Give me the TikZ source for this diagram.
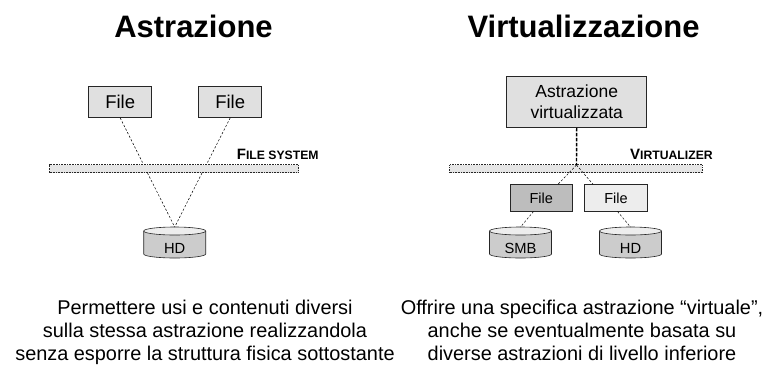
\documentclass[tikz,border=0pt]{standalone}
\usepackage{fontspec}
\setmainfont{Liberation Sans}
\usetikzlibrary{shapes.geometric,calc}
\definecolor{boxfill}{gray}{0.88}
\definecolor{darkfill}{gray}{0.74}
\definecolor{lightfill}{gray}{0.93}
\definecolor{cylfill}{gray}{0.80}
\definecolor{barfill}{gray}{0.90}
\definecolor{edgec}{gray}{0.15}
\tikzset{
 x=1pt,y=-1pt,
 titletext/.style={font=\fontsize{31}{34}\selectfont\bfseries,inner sep=0,anchor=base},
 bodytext/.style={font=\fontsize{19.9}{23}\selectfont,align=center,inner sep=0,anchor=north},
 boxbase/.style={draw=edgec,line width=0.6pt,inner sep=0,font=\fontsize{18.5}{21}\selectfont,align=center,text=black},
 bigfile/.style={boxbase,fill=boxfill,minimum width=63pt,minimum height=31.5pt},
 smallfile/.style={boxbase,font=\fontsize{14.5}{16}\selectfont,minimum width=62.5pt,minimum height=27pt},
 barbox/.style={draw=edgec,densely dotted,line width=0.6pt,fill=barfill,inner sep=0,minimum height=8pt},
 link/.style={draw=black,dash pattern=on 2.2pt off 1.8pt,line width=0.5pt},
 thicklink/.style={draw=black,dash pattern=on 3.5pt off 1.5pt,line width=1.4pt},
 caplabel/.style={font=\bfseries,inner sep=0,anchor=base west},
 cyltext/.style={font=\fontsize{14.7}{16}\selectfont,inner sep=0},
}
\newcommand{\drum}[3]{% left x, name, text
 \fill[cylfill] (#1,231) -- (#1,254) arc[start angle=180,end angle=0,x radius=31,y radius=4] -- (#1+62,231) -- cycle;
 \draw[edgec,line width=0.6pt] (#1,231) -- (#1,254) arc[start angle=180,end angle=0,x radius=31,y radius=4] -- (#1+62,231);
 \draw[edgec,line width=0.6pt,fill=lightfill] (#1+31,231) ellipse[x radius=31,y radius=4];
 \node[cyltext] (#2) at (#1+31,248.5) {#3};
 \coordinate (#2top) at (#1+31,227);
}
\begin{document}
\begin{tikzpicture}
\useasboundingbox (0,0) rectangle (765,365);
\node[titletext] (t1) at (193.5,37.7) {Astrazione};
\node[titletext] (t2) at (583.5,37.7) {Virtualizzazione};

% left
\node[bigfile] (f1) at (120.2,101.8) {File};
\node[bigfile] (f2) at (230.2,101.8) {File};
\node[barbox,minimum width=249pt] (bar1) at (174,168.7) {};
\node[caplabel] (fs) at (236.7,159.3) {\fontsize{15}{14}\selectfont F\fontsize{12.2}{14}\selectfont ILE SYSTEM};
\drum{143.7}{hd1}{HD}
\coordinate (a1) at (142.5,162.5);
\coordinate (a2) at (207.5,162.5);
\coordinate (b1) at (147.5,173);
\coordinate (b2) at (202,173);
\draw[link] (f1.south) -- (a1);
\draw[link] (f2.south) -- (a2);
\draw[link] (b1) -- (hd1top);
\draw[link] (b2) -- (hd1top);

% right
\node[bigfile,font=\fontsize{17.5}{21}\selectfont,minimum width=140pt,minimum height=51pt] (av) at (576.7,102) {Astrazione\\virtualizzata};
\node[barbox,minimum width=252.5pt] (bar2) at (576,168.7) {};
\node[caplabel] (vz) at (630,159.3) {\fontsize{15}{14}\selectfont V\fontsize{12.2}{14}\selectfont IRTUALIZER};
\node[smallfile,fill=darkfill] (f3) at (541.2,198) {File};
\node[smallfile,fill=lightfill] (f4) at (616,198) {File};
\drum{489.5}{smb}{SMB}
\drum{599.5}{hd2}{HD}
\coordinate (c) at (576.5,165);
\coordinate (f3t) at (558,184.3);
\coordinate (f4t) at (593,184.3);
\coordinate (f3b) at (533.5,211.5);
\coordinate (f4b) at (617.5,211.5);
\draw[thicklink] (av.south) -- (c);
\draw[link] (c) -- (f3t);
\draw[link] (c) -- (f4t);
\draw[link] (f3b) -- (smbtop);
\draw[link] (f4b) -- (hd2top);

% captions
\node[bodytext] (cap1) at (205,300) {Permettere usi e contenuti diversi\\sulla stessa astrazione realizzandola\\senza esporre la struttura fisica sottostante};
\node[bodytext] (cap2) at (582,300) {Offrire una specifica astrazione “virtuale”,\\anche se eventualmente basata su\\diverse astrazioni di livello inferiore};
\end{tikzpicture}
\end{document}
